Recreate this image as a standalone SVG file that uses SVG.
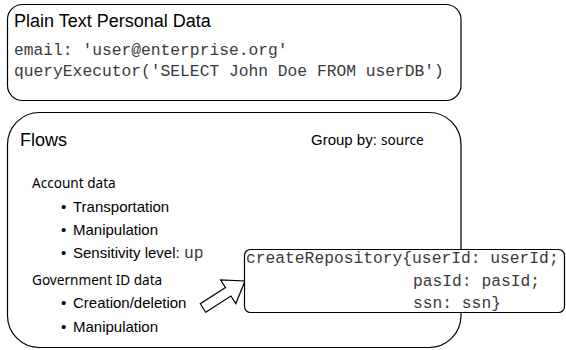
<svg xmlns="http://www.w3.org/2000/svg" width="566" height="350" viewBox="0 0 566 350">
<style>
.box{fill:#fff;stroke:#000;stroke-width:1.2}
.title{font-family:"Liberation Sans",Arial,sans-serif;font-size:18px;fill:#000}
.code{font-family:"Liberation Mono","Courier New",monospace;font-size:16.3px;fill:#3a3a3a}
.item{font-family:"Liberation Sans",Arial,sans-serif;font-size:15px;fill:#000}
.head{font-family:"Noto Sans","DejaVu Sans",sans-serif;font-size:13.6px;fill:#000}
.arrow{fill:#fff;stroke:#000;stroke-width:1.2;stroke-linejoin:miter}
</style>
<rect width="566" height="350" fill="#fff"/>
<g id="plain-text">
<rect class="box" x="7.5" y="4.5" width="453.5" height="96" rx="15"/>
<text class="title" x="14" y="27">Plain Text Personal Data</text>
<text class="code" x="14" y="55">email: 'user@enterprise.org'</text>
<text class="code" x="14" y="76">queryExecutor('SELECT John Doe FROM userDB')</text>
</g>
<g id="flows">
<rect class="box" x="7.5" y="112.5" width="453.5" height="235" rx="32"/>
<text class="title" x="20" y="146">Flows</text>
<text x="311" y="145"><tspan class="item" font-size="15px">Group by: </tspan><tspan class="head" font-size="15px">source</tspan></text>
<text class="head" x="32" y="188">Account data</text>
<text class="item" x="61" y="212">•</text><text class="item" x="73" y="212">Transportation</text>
<text class="item" x="61" y="235">•</text><text class="item" x="73" y="235">Manipulation</text>
<text class="item" x="61" y="258">•</text><text class="item" x="73" y="258">Sensitivity level: <tspan class="code" font-size="15px">up</tspan></text>
<text class="head" x="32" y="285">Government ID data</text>
<text class="item" x="61" y="308">•</text><text class="item" x="73" y="308">Creation/deletion</text>
<text class="item" x="61" y="332">•</text><text class="item" x="73" y="332">Manipulation</text>
</g>
<g id="connectors">
<polygon class="arrow" points="205.7,312.2 230.9,296 235.8,303.6 245,281 220.6,280 225.5,287.6 200.3,303.8"/>
</g>
<g id="create-repository">
<rect class="box" x="244.5" y="249.5" width="320" height="63" rx="6"/>
<text class="code" x="246" y="263">createRepository{userId: userId;</text>
<text class="code" x="413" y="286">pasId: pasId;</text>
<text class="code" x="413" y="308">ssn: ssn}</text>
</g>
</svg>
